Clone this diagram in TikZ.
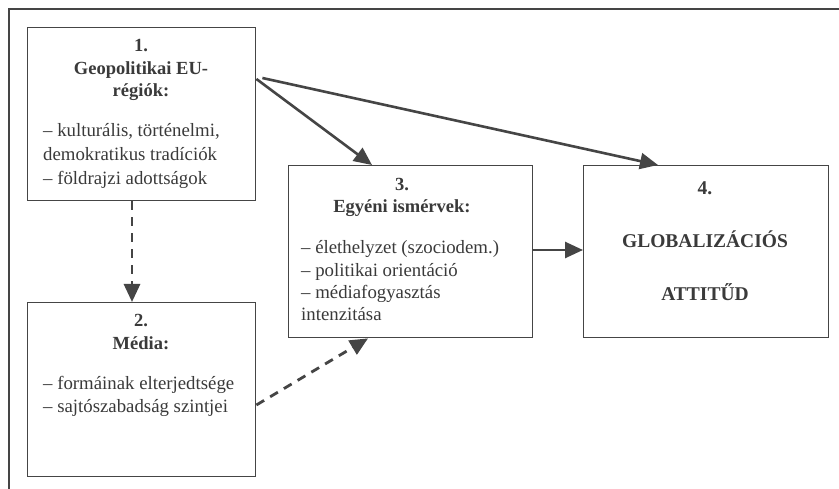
\documentclass[tikz,border=0pt]{standalone}
\usepackage{fontspec}
\setmainfont{Liberation Serif}
\usetikzlibrary{arrows.meta,calc}
\definecolor{ink}{HTML}{3A3A3A}
\definecolor{edge}{HTML}{454545}
\begin{document}
\begin{tikzpicture}[x=1pt,y=-1pt,
  box/.style={draw=edge,line width=1.4pt,anchor=north west,inner sep=0pt},
  ttl/.style={text=ink,inner sep=0pt,anchor=base,font=\fontsize{18.5}{22}\selectfont\bfseries},
  big/.style={text=ink,inner sep=0pt,anchor=base,font=\fontsize{19.5}{24}\selectfont\bfseries},
  itm/.style={text=ink,inner sep=0pt,anchor=base west,font=\fontsize{18.8}{22}\selectfont},
  solidarrow/.style={draw=edge,line width=2.6pt,-{Triangle[length=18pt,width=16pt]}},
  dasharrow/.style={draw=edge,line width=2.8pt,dash pattern=on 9pt off 7pt,-{Triangle[length=18pt,width=16pt]}},
  frame/.style={draw=edge,line width=1.2pt}
]
\useasboundingbox[fill=white] (0,0) rectangle (839,489);
\draw[frame] (839,9) -- (9,9) -- (9,489);

% boxes
\node[box,minimum width=228pt,minimum height=173pt] (b1) at (27,27) {};
\node[box,minimum width=228pt,minimum height=174pt] (b2) at (27,302) {};
\node[box,minimum width=244pt,minimum height=172pt] (b3) at (288,165) {};
\node[box,minimum width=245pt,minimum height=172pt] (b4) at (583,165) {};

% box 1 text
\node[ttl] (t1a) at (141,52) {1.};
\node[ttl] (t1b) at (141,75) {Geopolitikai EU-};
\node[ttl] (t1c) at (141,97) {régiók:};
\node[itm] (l1a) at (43,137) {– kulturális, történelmi,};
\node[itm] (l1b) at (43,161) {demokratikus tradíciók};
\node[itm] (l1c) at (43,185) {– földrajzi adottságok};

% box 2 text
\node[ttl] (t2a) at (141,327) {2.};
\node[ttl] (t2b) at (141,350) {Média:};
\node[itm] (l2a) at (43,390) {– formáinak elterjedtsége};
\node[itm] (l2b) at (43,413) {– sajtószabadság szintjei};

% box 3 text
\node[ttl] (t3a) at (402,191) {3.};
\node[ttl] (t3b) at (402,213) {Egyéni ismérvek:};
\node[itm] (l3a) at (301,254) {– élethelyzet (szociodem.)};
\node[itm] (l3b) at (301,277) {– politikai orientáció};
\node[itm] (l3c) at (301,299) {– médiafogyasztás};
\node[itm] (l3d) at (301,321) {intenzitása};

% box 4 text
\node[big] (t4a) at (705,195) {4.};
\node[big] (t4b) at (705,248) {GLOBALIZÁCIÓS};
\node[big] (t4c) at (705,301) {ATTITŰD};

% connectors
\draw[solidarrow] ($(b1.north east)+(0,52)$) -- ($(b3.north west)+(84,0)$);
\draw[solidarrow] ($(b1.north east)+(6,51)$) -- ($(b4.north west)+(75,0)$);
\draw[solidarrow] ($(b3.north east)+(0,85)$) -- ($(b4.north west)+(0,85)$);
\draw[dasharrow] ($(b1.south west)+(105,0)$) -- ($(b2.north west)+(105,0)$);
\draw[dasharrow] ($(b2.north east)+(0,103)$) -- ($(b3.south west)+(80,0)$);
\end{tikzpicture}
\end{document}
